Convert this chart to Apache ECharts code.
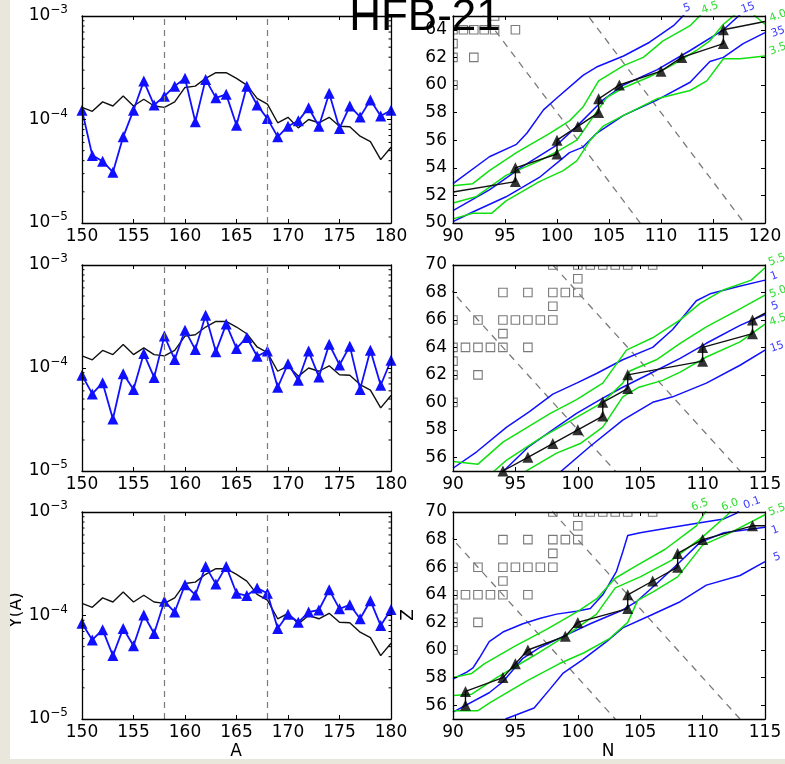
<!DOCTYPE html>
<html>
<head>
<meta charset="utf-8">
<script src="https://cdn.jsdelivr.net/npm/echarts@6/dist/echarts.min.js"></script>
<style>
html, body { margin: 0; padding: 0; background: #ffffff; }
#chart { width: 785px; height: 764px; }
</style>
</head>
<body>
<div id="chart"></div>
<script>
// ---------- abundance panels (left column) ----------
const massNumbers = [150,151,152,153,154,155,156,157,158,159,160,161,162,163,164,165,166,167,168,169,170,171,172,173,174,175,176,177,178,179,180];

// solar r-process abundance pattern, same in every row
const solarR = [1.31e-4,1.20e-4,1.48e-4,1.35e-4,1.69e-4,1.35e-4,1.57e-4,1.35e-4,1.31e-4,1.48e-4,
                2.04e-4,2.10e-4,2.50e-4,2.83e-4,2.83e-4,2.50e-4,2.15e-4,1.60e-4,1.41e-4,9.3e-5,
                1.05e-4,8.3e-5,1.00e-4,9.3e-5,1.05e-4,8.6e-5,8.5e-5,6.9e-5,6.1e-5,4.1e-5,5.4e-5];

// calculated yields Y(A), one array per row
const yieldTop = [1.23e-4,4.5e-5,3.95e-5,3.1e-5,6.8e-5,1.23e-4,2.35e-4,1.38e-4,1.68e-4,2.10e-4,
                  2.50e-4,9.5e-5,2.44e-4,1.62e-4,1.75e-4,8.8e-5,2.10e-4,1.38e-4,1.02e-4,6.8e-5,
                  8.6e-5,9.7e-5,1.30e-4,8.6e-5,1.79e-4,8.2e-5,1.35e-4,1.06e-4,1.54e-4,1.08e-4,1.23e-4];
const yieldMid = [8.5e-5,5.6e-5,7.2e-5,3.2e-5,8.8e-5,6.2e-5,1.38e-4,8.1e-5,2.04e-4,1.21e-4,
                  2.33e-4,1.51e-4,3.26e-4,1.44e-4,2.67e-4,1.55e-4,1.98e-4,1.30e-4,1.46e-4,6.5e-5,
                  1.10e-4,7.6e-5,1.46e-4,8.2e-5,1.70e-4,1.07e-4,1.63e-4,6.2e-5,1.49e-4,6.8e-5,1.19e-4];
const yieldBot = [8.4e-5,5.8e-5,7.3e-5,4.1e-5,7.5e-5,5.1e-5,1.01e-4,6.7e-5,1.37e-4,1.08e-4,
                  1.98e-4,1.58e-4,2.98e-4,2.01e-4,2.98e-4,1.64e-4,1.56e-4,1.84e-4,1.64e-4,7.5e-5,
                  1.03e-4,8.6e-5,1.08e-4,1.13e-4,1.77e-4,1.16e-4,1.27e-4,9.3e-5,1.39e-4,8.0e-5,1.14e-4];

// mass numbers marked with dashed lines (vertical on the left, N+Z=A on the right)
const markedMass = [158, 168];

const yLogTicks = [1e-5, 1e-4, 1e-3];
const yLogMinor = [2e-5,3e-5,4e-5,5e-5,6e-5,7e-5,8e-5,9e-5,2e-4,3e-4,4e-4,5e-4,6e-4,7e-4,8e-4,9e-4];

// ---------- nuclear chart panels (right column) ----------
const zTicksTop = [50,52,54,56,58,60,62,64];
const zTicksLow = [56,58,60,62,64,66,68,70];
const nRangeTop = [90, 120], zRangeTop = [50, 65];
const nRangeLow = [90, 115], zRangeLow = [55, 70];

// experimentally known nuclei [N, Z]
const knownNuclei = [[90,60],[90,62],[92,62],[90,63],[90,64],[91,64],[92,64],[93,64],[94,64],[96,64],
  [94,65],[90,66],[92,66],[94,66],[95,66],[96,66],[97,66],[98,66],[98,67],
  [94,68],[96,68],[98,68],[99,68],[100,68],[100,69],
  [98,70],[100,70],[101,70],[102,70],[103,70],[104,70],[106,70]];

// r-process path [N, Z]: line and marked nuclei
const pathTop = [[90,52.25],[96,53],[96,54],[100,55],[100,56],[102,57],[104,58],[104,59],[106,60],[110,61],[112,62],[116,63],[116,64],[120,64.6]];
const pathTopNuclei = [[96,53],[96,54],[100,55],[100,56],[102,57],[104,58],[104,59],[106,60],[110,61],[112,62],[116,63],[116,64]];
const pathMid = [[94,55],[96,56],[98,57],[100,58],[102,59],[102,60],[104,61],[104,62],[110,63],[110,64],[114,65],[114,66],[115,66.5]];
const pathMidNuclei = [[94,55],[96,56],[98,57],[100,58],[102,59],[102,60],[104,61],[104,62],[110,63],[110,64],[114,65],[114,66]];
const pathBot = [[91,56],[91,57],[94,58],[95,59],[96,60],[99,61],[100,62],[104,63],[104,64],[106,65],[108,66],[108,67],[110,68],[114,69],[115,69]];
const pathBotNuclei = [[91,56],[91,57],[94,58],[95,59],[96,60],[99,61],[100,62],[104,63],[104,64],[106,65],[108,66],[108,67],[110,68],[114,69]];

// contour lines: blue = one quantity, green = another
const contoursTop = [
  { label: '5',   kind: 'b', pts: [[90,52.85],[93.5,54.8],[96.1,55.7],[97.1,56.5],[98.7,58.2],[99.9,59],[102.5,60.7],[103.8,61.3],[106.4,62.1],[108.9,63.1],[111.2,64.3],[112.5,65.3]] },
  { label: '15',  kind: 'b', pts: [[90,50.9],[93.5,52.4],[96.7,54.1],[99.9,55.6],[101.9,57],[104.4,58.9],[106.4,60],[109.6,61.1],[112.8,62.5],[116,64],[117.9,65.3]] },
  { label: '35',  kind: 'b', pts: [[90,50.1],[91.9,50.8],[95.1,51.9],[98.3,53.3],[101.2,55.1],[102.5,55.5],[103.8,56.5],[106.4,57.8],[109.6,58.9],[112.8,60.2],[114.7,61.7],[116,62],[117.9,63],[120,63.8]] },
  { label: '4.5', kind: 'g', pts: [[90,52.7],[91.9,52.85],[93.5,53.8],[96.1,55.1],[99.3,56.5],[101.2,57.4],[102.5,58.4],[104,60.3],[106.4,61.4],[108.3,62],[110.2,63.2],[112.8,64.3],[114.1,65.3]] },
  { label: '4.0', kind: 'g', pts: [[90,51.45],[92.2,51.9],[95.1,53.45],[98.3,54.5],[100.3,55.3],[101.9,56],[103.2,57.4],[104.8,59.1],[106.4,59.8],[108.9,60.6],[111.2,61.5],[113.4,62.5],[114.7,63.2],[116,64.4],[117.6,65.4],[118.4,65.4],[120,64.4]] },
  { label: '3.5', kind: 'g', pts: [[90,50.3],[91.9,50.7],[93.7,50.7],[95.1,51.6],[98.3,53],[100.6,53.8],[101.9,54.5],[103.2,56],[104.4,57],[106.4,57.8],[109.6,59],[112.8,59.6],[114.4,60.3],[116,61.9],[117.6,61.9],[120,62.1]] }
];
const contoursMid = [
  { label: '1',   kind: 'b', pts: [[90,55.2],[91.9,56.4],[94.3,58.2],[96.1,59.3],[98,60.6],[99.9,61.4],[101.5,62.1],[103.6,63.1],[106,64],[107.6,65.3],[109.5,67.4],[110.6,67.9],[112.7,68.4],[115,68.9]] },
  { label: '5',   kind: 'b', pts: [[93.6,54.6],[96.1,56.8],[98.3,58.2],[99.9,59.2],[102,60.3],[103.6,61.1],[105.8,62.1],[108.2,63.2],[110.3,64.3],[113,65.6],[115,66.4]] },
  { label: '15',  kind: 'b', pts: [[98.3,54.7],[101,56.8],[103.6,58.7],[106,60],[107.6,60.4],[110.3,61.4],[113,62.7],[115,63.8]] },
  { label: '5.5', kind: 'g', pts: [[90,55.7],[92,55.5],[94,57.1],[97.8,59.2],[99.9,60.2],[102,61.4],[103.9,63.8],[106,64.7],[108.2,66],[109.8,67.2],[111.7,68.2],[113.9,68.9],[115,69.8]] },
  { label: '5.0', kind: 'g', pts: [[92.8,54.6],[94.3,55.8],[97,57.4],[99.9,58.9],[102,60],[103.6,61.4],[104.2,62.3],[106.3,63.1],[108.2,64.3],[110.3,65.5],[113,66.8],[115,67.8]] },
  { label: '4.5', kind: 'g', pts: [[95.3,54.7],[98.3,56.3],[100.2,57],[102,58.2],[103.6,60.4],[104.9,61.1],[106.8,61.6],[108.2,62.2],[110.3,63.3],[113,64.4],[115,65.7]] }
];
const contoursBot = [
  { label: '0.1', kind: 'b', pts: [[90,57.9],[91.1,58.4],[91.6,58.7],[92.1,59.4],[92.9,60.6],[94,61.3],[95.6,61.9],[97,62.3],[98.3,62.6],[99.9,62.8],[101,63],[102,64],[103.1,65.7],[103.6,67.1],[104,68.3],[105,68.5],[107.6,68.9],[110.3,69.3],[111.7,69.5],[112.7,69.9],[113.2,70.4]] },
  { label: '1',   kind: 'b', pts: [[90,55.5],[92.9,56.9],[94,57.7],[95.6,59.4],[97,60.2],[99.1,61.1],[101,61.9],[103.6,62.9],[104.7,63.5],[106.3,64.8],[108.2,66.4],[109.8,67.8],[111.7,68.5],[115,68.9]] },
  { label: '5',   kind: 'b', pts: [[94.2,55],[96.5,55.8],[97.8,57.2],[98.8,58.3],[100.4,59.3],[102.3,60.6],[103.6,61.6],[105.8,62.5],[108.2,63.5],[110.3,64.7],[113,65.4],[115,66.4]] },
  { label: '6.5', kind: 'g', pts: [[90,58],[91.5,58.3],[92.5,59],[95,60.3],[97.5,61.5],[100,62.8],[101.5,63.7],[103,65.2],[104.5,66],[107,67.3],[109.5,69],[110.5,70.4]] },
  { label: '6.0', kind: 'g', pts: [[90,56.7],[91.5,56.8],[93.5,58],[96.5,59.6],[99,61],[101.5,62.6],[103,64.5],[105,65.3],[107.5,66.5],[110,68.2],[112,69.8],[112.5,70.4]] },
  { label: '5.5', kind: 'g', pts: [[90,55.6],[92,55.6],[93,56.2],[96,57.8],[98.5,59],[100.5,59.8],[102.5,60.8],[104,62],[104.8,63.6],[106,64.2],[108,65.3],[110,67.6],[112,68.4],[115,69.8]] }
];

// ---------- drawing ----------
const FONT = 'DejaVu Sans';
const BLUE = '#1010ff';
const GREEN = '#10e010';
const GREY = '#7a7a7a';

const colLeft = { left: 82, width: 309 };
const colRight = { left: 453, width: 312 };
const rowBox = [{ top: 16, height: 207 }, { top: 265, height: 206 }, { top: 512, height: 207 }];

const grids = [], xAxes = [], yAxes = [], series = [];

function frameAxis(base, pos, labels) {
  return Object.assign({}, base, {
    position: pos,
    axisLine: { show: true, onZero: false, lineStyle: { color: '#000', width: 1.3 } },
    axisTick: Object.assign({ show: true, inside: true, length: 4, lineStyle: { color: '#000', width: 1 } }, base.axisTick || {}),
    axisLabel: Object.assign({ show: labels, color: '#000', fontFamily: FONT, fontSize: 17 }, base.axisLabel || {}),
    splitLine: { show: false },
    z: 5
  });
}

function addPanel(box, col, xBase, yBase) {
  const g = grids.length;
  grids.push({ left: col.left, width: col.width, top: box.top, height: box.height, containLabel: false });
  xBase.gridIndex = g; yBase.gridIndex = g;
  xAxes.push(frameAxis(xBase, 'bottom', true));
  xAxes.push(frameAxis(xBase, 'top', false));
  yAxes.push(frameAxis(yBase, 'left', true));
  yAxes.push(frameAxis(yBase, 'right', false));
  return { x: 2 * g, y: 2 * g };
}

function logLabel(v) {
  const e = Math.round(Math.log10(v));
  return '{b|10}{s|\u2212' + (-e) + '}';
}

function abundancePanel(row, yields) {
  const ax = addPanel(rowBox[row], colLeft,
    { type: 'value', min: massNumbers[0], max: massNumbers[massNumbers.length - 1], interval: 5,
      axisLabel: { margin: 5 } },
    { type: 'log', logBase: 10, min: yLogTicks[0], max: yLogTicks[yLogTicks.length - 1],
      axisLabel: { margin: 14, formatter: logLabel,
        rich: { b: { fontSize: 17, fontFamily: FONT, color: '#000', lineHeight: 24 },
                s: { fontSize: 12, fontFamily: FONT, color: '#000', lineHeight: 12, verticalAlign: 'top' } } } });
  const xMin = massNumbers[0], xMax = massNumbers[massNumbers.length - 1];
  // minor log ticks on both vertical sides
  series.push({
    type: 'custom', xAxisIndex: ax.x, yAxisIndex: ax.y, silent: true, z: 6,
    data: yLogMinor.map(v => [xMin, v]), encode: { x: 0, y: 1 },
    renderItem: (params, api) => {
      const v = api.value(1);
      const a = api.coord([xMin, v]), b = api.coord([xMax, v]);
      return { type: 'group', children: [
        { type: 'line', shape: { x1: a[0], y1: a[1], x2: a[0] + 2.5, y2: a[1] }, style: { stroke: '#000', lineWidth: 1 } },
        { type: 'line', shape: { x1: b[0], y1: b[1], x2: b[0] - 2.5, y2: b[1] }, style: { stroke: '#000', lineWidth: 1 } }
      ] };
    }
  });
  series.push({
    type: 'line', xAxisIndex: ax.x, yAxisIndex: ax.y, showSymbol: false, symbol: 'none', silent: true,
    data: massNumbers.map((a, i) => [a, solarR[i]]),
    lineStyle: { color: '#111', width: 1.4 }, z: 2,
    markLine: { silent: true, symbol: ['none', 'none'], label: { show: false },
      lineStyle: { color: GREY, type: [6, 5], width: 1.2 },
      data: markedMass.map(m => ({ xAxis: m })) }
  });
  series.push({
    type: 'line', xAxisIndex: ax.x, yAxisIndex: ax.y, silent: true,
    data: massNumbers.map((a, i) => [a, yields[i]]),
    symbol: 'triangle', symbolSize: 11, showSymbol: true,
    lineStyle: { color: BLUE, width: 1.8 }, itemStyle: { color: BLUE }, z: 3
  });
}

function chartPanel(row, nRange, zRange, zTicks, contours, path, pathNuclei) {
  const ax = addPanel(rowBox[row], colRight,
    { type: 'value', min: nRange[0], max: nRange[1], interval: 5, axisLabel: { margin: 5 } },
    { type: 'value', min: zRange[0], max: zRange[1],
      axisLabel: { margin: 6, customValues: zTicks }, axisTick: { customValues: zTicks } });
  // lines of constant mass number A = N + Z
  markedMass.forEach(A => {
    const n0 = nRange[0] - 20, n1 = nRange[1] + 20;
    series.push({ type: 'line', xAxisIndex: ax.x, yAxisIndex: ax.y, silent: true, symbol: 'none', clip: true,
      data: [[n0, A - n0], [n1, A - n1]], lineStyle: { color: GREY, type: [7, 6], width: 1.3 }, z: 1 });
  });
  // known nuclei as open squares
  series.push({ type: 'custom', xAxisIndex: ax.x, yAxisIndex: ax.y, silent: true, clip: true, z: 2,
    data: knownNuclei, encode: { x: 0, y: 1 },
    renderItem: (params, api) => {
      const p = api.coord([api.value(0), api.value(1)]);
      const s = 8.5;
      return { type: 'rect', shape: { x: p[0] - s / 2, y: p[1] - s / 2, width: s, height: s },
        style: { fill: 'none', stroke: GREY, lineWidth: 1.1 } };
    } });
  contours.forEach(c => {
    series.push({ type: 'line', xAxisIndex: ax.x, yAxisIndex: ax.y, silent: true, symbol: 'none', clip: true,
      data: c.pts, lineStyle: { color: c.kind === 'b' ? BLUE : GREEN, width: 1.5 }, z: 3 });
  });
  series.push({ type: 'line', xAxisIndex: ax.x, yAxisIndex: ax.y, silent: true, symbol: 'none', clip: true,
    data: path, lineStyle: { color: '#111', width: 1.4 }, z: 4 });
  series.push({ type: 'scatter', xAxisIndex: ax.x, yAxisIndex: ax.y, silent: true,
    data: pathNuclei, symbol: 'triangle', symbolSize: 11, itemStyle: { color: '#000' }, z: 4 });
}

abundancePanel(0, yieldTop);
chartPanel(0, nRangeTop, zRangeTop, zTicksTop, contoursTop, pathTop, pathTopNuclei);
abundancePanel(1, yieldMid);
chartPanel(1, nRangeLow, zRangeLow, zTicksLow, contoursMid, pathMid, pathMidNuclei);
abundancePanel(2, yieldBot);
chartPanel(2, nRangeLow, zRangeLow, zTicksLow, contoursBot, pathBot, pathBotNuclei);

// contour value labels placed just outside the panels
function contourText(contours, spots) {
  return contours.map((c, i) => ({
    type: 'text', x: spots[i][0], y: spots[i][1], rotation: 0.35, z: 20,
    style: { text: c.label, fill: c.kind === 'b' ? '#3a3aff' : '#30dd30', font: '11px "DejaVu Sans"',
      textAlign: 'center', textVerticalAlign: 'middle' }
  }));
}
const labelGraphics = []
  .concat(contourText(contoursTop, [[687, 8], [748, 8], [778, 32], [710, 8], [778, 16], [778, 49]]))
  .concat(contourText(contoursMid, [[774, 276], [775, 306], [777, 347], [777, 260], [778, 292], [778, 320]]))
  .concat(contourText(contoursBot, [[752, 503], [775, 530], [777, 557], [700, 505], [730, 505], [777, 510]]));

const option = {
  animation: false,
  backgroundColor: '#ffffff',
  grid: grids,
  xAxis: xAxes,
  yAxis: yAxes,
  series: series,
  graphic: [
    { type: 'rect', shape: { x: 0, y: 0, width: 10, height: 764 }, style: { fill: '#e9e7dc' }, z: 30 },
    { type: 'text', x: 425, y: 18, z: 25,
      style: { text: 'HFB-21', font: '44px "Liberation Sans"', fill: '#000', textAlign: 'center', textVerticalAlign: 'middle' } },
    { type: 'text', x: 236, y: 752, z: 25,
      style: { text: 'A', font: '17px "DejaVu Sans"', fill: '#000', textAlign: 'center', textVerticalAlign: 'middle' } },
    { type: 'text', x: 608, y: 752, z: 25,
      style: { text: 'N', font: '17px "DejaVu Sans"', fill: '#000', textAlign: 'center', textVerticalAlign: 'middle' } },
    { type: 'text', x: 17, y: 610, rotation: Math.PI / 2, z: 25,
      style: { text: 'Y(A)', font: '17px "DejaVu Sans"', fill: '#000', textAlign: 'center', textVerticalAlign: 'middle' } },
    { type: 'text', x: 409, y: 615, rotation: Math.PI / 2, z: 25,
      style: { text: 'Z', font: '17px "DejaVu Sans"', fill: '#000', textAlign: 'center', textVerticalAlign: 'middle' } },
    { type: 'rect', shape: { x: 0, y: 759, width: 785, height: 5 }, style: { fill: '#e9e7dc' }, z: 30 }
  ].concat(labelGraphics)
};

const chart = echarts.init(document.getElementById('chart'), null, { renderer: 'canvas' });
chart.setOption(option);
</script>
</body>
</html>
